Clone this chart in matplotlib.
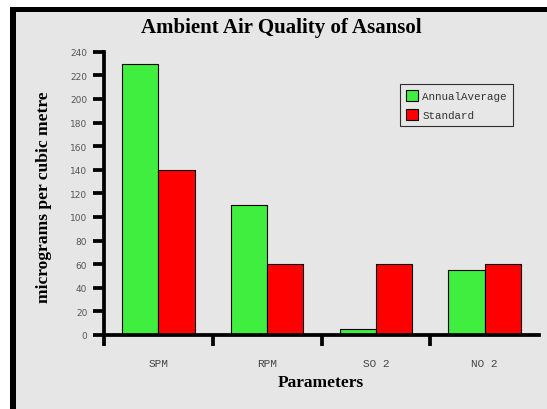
import matplotlib
matplotlib.use("Agg")
import matplotlib.pyplot as plt
from matplotlib.patches import Rectangle, Patch
import numpy as np

categories = ["SPM", "RPM", "SO 2", "NO 2"]
annual_average = [230, 110, 5, 55]
standard = [140, 60, 60, 60]
series_names = ["AnnualAverage", "Standard"]
series_colors = ["#3fee3f", "#ff0000"]
y_ticks = list(range(0, 241, 20))
title = "Ambient Air Quality of Asansol"
x_label = "Parameters"
y_label = "micrograms per cubic metre"

W, H = 547, 410
fig = plt.figure(figsize=(W / 100, H / 100), dpi=100)
fig.patch.set_facecolor("white")
fig.add_artist(Rectangle((10 / W, 0), 1, 1 - 8 / H, transform=fig.transFigure,
                         facecolor="black", edgecolor="none", zorder=-3))
fig.add_artist(Rectangle((16 / W, 0), 1, 1 - 13 / H, transform=fig.transFigure,
                         facecolor="#e6e6e6", edgecolor="none", zorder=-2))

ax = fig.add_axes([104 / W, (H - 336) / H, (539 - 104) / W, (336 - 52.7) / H])
ax.set_facecolor("none")

x = np.arange(len(categories))
w = 1 / 3
ax.bar(x - w / 2, annual_average, w, color=series_colors[0], edgecolor="black", linewidth=0.8)
ax.bar(x + w / 2, standard, w, color=series_colors[1], edgecolor="black", linewidth=0.8)

ax.set_xlim(-0.5, len(categories) - 0.5)
ax.set_ylim(0, 240)

for s in ["top", "right"]:
    ax.spines[s].set_visible(False)
for s in ["left", "bottom"]:
    ax.spines[s].set_linewidth(2.7)
    ax.spines[s].set_color("black")

ax.set_yticks(y_ticks)
ax.tick_params(axis="y", which="major", length=8, width=2.7, pad=4,
               labelsize=6.5, labelcolor="#555555", direction="out")
for lab in ax.get_yticklabels():
    lab.set_family("DejaVu Sans")

ax.set_xticks(x, categories)
ax.set_xticks(np.arange(len(categories)) - 0.5, minor=True)
ax.tick_params(axis="x", which="major", length=0, pad=16.5,
               labelsize=8, labelcolor="#444444")
ax.tick_params(axis="x", which="minor", length=8, width=2.7, direction="out")
for lab in ax.get_xticklabels():
    lab.set_family("Liberation Mono")

handles = [Patch(facecolor=c, edgecolor="black", linewidth=0.8) for c in series_colors]
leg = fig.legend(handles, series_names, loc="upper left",
                 bbox_to_anchor=(400 / W, 1 - 85 / H), bbox_transform=fig.transFigure,
                 borderaxespad=0, frameon=True, fancybox=False,
                 prop={"family": "Liberation Mono", "size": 7.8},
                 handlelength=1.15, handleheight=1.15, handletextpad=0.35,
                 borderpad=0.55, labelspacing=0.75)
leg.get_frame().set_edgecolor("black")
leg.get_frame().set_linewidth(0.8)
leg.get_frame().set_facecolor("#e8e8e8")
for t in leg.get_texts():
    t.set_color("#333333")

fig.text(281 / W, 1 - 28 / H, title, ha="center", va="center",
         fontsize=15, fontweight="bold", family="Liberation Serif")
fig.text(44 / W, 1 - 196.7 / H, y_label, ha="center", va="center", rotation=90,
         fontsize=12.6, fontweight="bold", family="Liberation Serif")
fig.text(321 / W, 1 - 383 / H, x_label, ha="center", va="center",
         fontsize=12.5, fontweight="bold", family="Liberation Serif")

fig.savefig("out.png", dpi=100)
